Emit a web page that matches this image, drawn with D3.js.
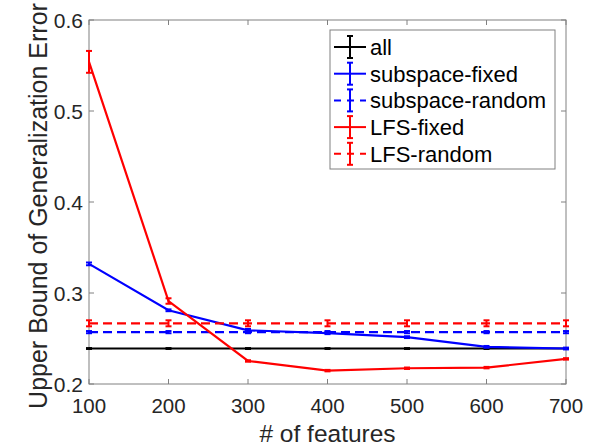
<!DOCTYPE html>
<html lang="en">
    <head>
        <meta charset="utf-8">
        <title>Upper bound of generalization error</title>
        <script type="text/javascript" src="https://cdn.jsdelivr.net/npm/d3@7"></script>
        <style type="text/css">
            body { margin: 0; background: #fff; }
            text { font-family: "Liberation Sans", Arial, sans-serif; fill: #262626; }
        </style>
    </head>
    <body>
        <script type="text/javascript">
            // x values
            var features = [100, 200, 300, 400, 500, 600, 700];
            var xTicks = [100, 200, 300, 400, 500, 600, 700];
            var yTicks = [0.2, 0.3, 0.4, 0.5, 0.6];

            // series means and error half-widths
            var allMean = [0.239, 0.239, 0.239, 0.239, 0.239, 0.239, 0.239];
            var allErr = [0.0005, 0.0005, 0.0005, 0.0005, 0.0005, 0.0005, 0.0005];
            var subFixedMean = [0.332, 0.281, 0.259, 0.256, 0.2515, 0.2408, 0.239];
            var subFixedErr = [0.0015, 0.001, 0.0015, 0.0012, 0.001, 0.001, 0.001];
            var subRandomMean = [0.257, 0.257, 0.257, 0.257, 0.257, 0.257, 0.257];
            var subRandomErr = [0.0012, 0.0012, 0.0012, 0.0012, 0.0012, 0.0012, 0.0012];
            var lfsFixedMean = [0.554, 0.2912, 0.2253, 0.2147, 0.2173, 0.218, 0.2276];
            var lfsFixedErr = [0.012, 0.003, 0.0008, 0.0008, 0.0008, 0.0008, 0.0008];
            var lfsRandomMean = [0.2667, 0.2667, 0.2667, 0.2667, 0.2667, 0.2667, 0.2667];
            var lfsRandomErr = [0.0033, 0.0033, 0.0033, 0.0033, 0.0033, 0.0033, 0.0033];

            var seriesNames = ["all", "subspace-fixed", "subspace-random", "LFS-fixed", "LFS-random"];

            var series = [
                {name: seriesNames[0], mean: allMean, err: allErr, color: "#000000", dash: null},
                {name: seriesNames[1], mean: subFixedMean, err: subFixedErr, color: "#0000ff", dash: null},
                {name: seriesNames[2], mean: subRandomMean, err: subRandomErr, color: "#0000ff", dash: "9,5"},
                {name: seriesNames[3], mean: lfsFixedMean, err: lfsFixedErr, color: "#ff0000", dash: null},
                {name: seriesNames[4], mean: lfsRandomMean, err: lfsRandomErr, color: "#ff0000", dash: "9,5"}
            ];

            var W = 592, H = 446;
            var margin = {top: 20, right: 26, bottom: 62, left: 89};
            var width = W - margin.left - margin.right,
                height = H - margin.top - margin.bottom;

            var xScale = d3.scaleLinear().domain([100, 700]).range([0, width]);
            var yScale = d3.scaleLinear().domain([0.2, 0.6]).range([height, 0]);

            var svg = d3.select("body").append("svg")
                        .attr("width", W)
                        .attr("height", H)
                        .append("g")
                        .attr("transform", "translate(" + margin.left + "," + margin.top + ")");

            var axisColor = "#808080";
            var tickLen = 5;

            // box
            svg.append("rect")
               .attr("x", 0).attr("y", 0)
               .attr("width", width).attr("height", height)
               .attr("fill", "none")
               .attr("stroke", axisColor)
               .attr("stroke-width", 1);

            // inner ticks on all sides
            xTicks.forEach(function(t) {
                svg.append("line").attr("x1", xScale(t)).attr("x2", xScale(t))
                   .attr("y1", height).attr("y2", height - tickLen).attr("stroke", axisColor);
                svg.append("line").attr("x1", xScale(t)).attr("x2", xScale(t))
                   .attr("y1", 0).attr("y2", tickLen).attr("stroke", axisColor);
                svg.append("text")
                   .attr("x", xScale(t)).attr("y", height + 29)
                   .attr("text-anchor", "middle")
                   .style("font-size", "20.5px")
                   .text(t);
            });
            yTicks.forEach(function(t) {
                svg.append("line").attr("x1", 0).attr("x2", tickLen)
                   .attr("y1", yScale(t)).attr("y2", yScale(t)).attr("stroke", axisColor);
                svg.append("line").attr("x1", width).attr("x2", width - tickLen)
                   .attr("y1", yScale(t)).attr("y2", yScale(t)).attr("stroke", axisColor);
                svg.append("text")
                   .attr("x", -6).attr("y", yScale(t) + 7.5)
                   .attr("text-anchor", "end")
                   .style("font-size", "21px")
                   .text(d3.format(".1f")(t));
            });

            // axis labels
            svg.append("text")
               .attr("text-anchor", "middle")
               .attr("transform", "translate(" + (width / 2) + "," + (height + 58) + ")")
               .style("font-size", "24.5px")
               .text("# of features");
            svg.append("text")
               .attr("text-anchor", "middle")
               .attr("transform", "translate(-42," + (height / 2 + 4) + ") rotate(-90)")
               .style("font-size", "25px")
               .text("Upper Bound of Generalization Error");

            var line = d3.line()
                         .x(function(d) { return xScale(d.x); })
                         .y(function(d) { return yScale(d.y); });

            var capW = 3;
            series.forEach(function(s) {
                var pts = features.map(function(f, i) { return {x: f, y: s.mean[i], e: s.err[i]}; });
                var g = svg.append("g");
                g.append("path")
                 .datum(pts)
                 .attr("d", line)
                 .attr("fill", "none")
                 .attr("stroke", s.color)
                 .attr("stroke-width", 2.2)
                 .attr("stroke-dasharray", s.dash);
                var eb = g.selectAll(".eb").data(pts).enter().append("g");
                eb.append("line")
                  .attr("x1", function(d) { return xScale(d.x); })
                  .attr("x2", function(d) { return xScale(d.x); })
                  .attr("y1", function(d) { return yScale(d.y - d.e); })
                  .attr("y2", function(d) { return yScale(d.y + d.e); })
                  .attr("stroke", s.color).attr("stroke-width", 2);
                [-1, 1].forEach(function(sign) {
                    eb.append("line")
                      .attr("x1", function(d) { return xScale(d.x) - capW; })
                      .attr("x2", function(d) { return xScale(d.x) + capW; })
                      .attr("y1", function(d) { return yScale(d.y + sign * d.e); })
                      .attr("y2", function(d) { return yScale(d.y + sign * d.e); })
                      .attr("stroke", s.color).attr("stroke-width", 2);
                });
            });

            // legend
            var lx = 330 - margin.left, ly = 30 - margin.top;
            var legend = svg.append("g").attr("transform", "translate(" + lx + "," + ly + ")");
            legend.append("rect")
                  .attr("width", 225).attr("height", 139)
                  .attr("fill", "#fff")
                  .attr("stroke", axisColor);
            series.forEach(function(s, i) {
                var cy = 17 + i * 26.7;
                var row = legend.append("g").attr("transform", "translate(0," + cy + ")");
                row.append("line")
                   .attr("x1", 4).attr("x2", 36).attr("y1", 0).attr("y2", 0)
                   .attr("stroke", s.color).attr("stroke-width", 2)
                   .attr("stroke-dasharray", s.dash ? "7,6" : null);
                row.append("line").attr("x1", 20).attr("x2", 20).attr("y1", -11).attr("y2", 11)
                   .attr("stroke", s.color).attr("stroke-width", 2);
                row.append("line").attr("x1", 17).attr("x2", 23).attr("y1", -11).attr("y2", -11)
                   .attr("stroke", s.color).attr("stroke-width", 2);
                row.append("line").attr("x1", 17).attr("x2", 23).attr("y1", 11).attr("y2", 11)
                   .attr("stroke", s.color).attr("stroke-width", 2);
                row.append("text")
                   .attr("x", 40).attr("y", 8)
                   .style("font-size", "22px")
                   .style("fill", "#000")
                   .text(s.name);
            });
        </script>
    </body>
</html>
